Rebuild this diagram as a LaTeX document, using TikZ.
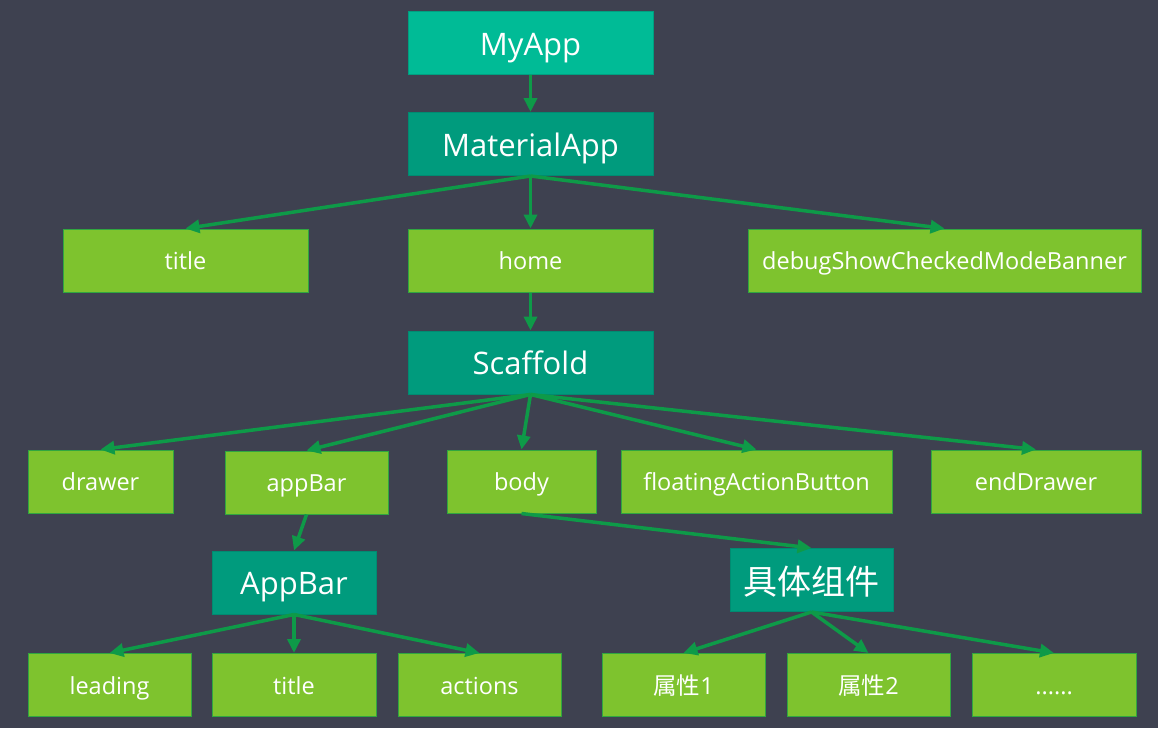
\documentclass[tikz,border=0pt]{standalone}
\usepackage{fontspec}
\setmainfont{Open Sans}
\newfontfamily\cjk{Noto Sans CJK SC}
\usepackage{tikz}
\usepackage{xcolor}
\usetikzlibrary{positioning, arrows.meta}
\definecolor{bgslate}{RGB}{62, 65, 80}
\definecolor{appteal}{RGB}{0, 187, 150}
\definecolor{widgetteal}{RGB}{0, 155, 125}
\definecolor{propgreen}{RGB}{126, 195, 46}
\definecolor{linkgreen}{RGB}{14, 154, 72}
\tikzset{
    box/.style={rectangle, draw, line width=1pt, text=white, inner sep=0pt, minimum height=63pt, text depth=4pt},
    appnode/.style={box, fill=appteal, draw=appteal!85!black, font=\fontsize{31}{36}\selectfont, text height=28pt},
    widgetnode/.style={box, fill=widgetteal, draw=widgetteal!90!black, font=\fontsize{31}{36}\selectfont, text height=28pt},
    propnode/.style={box, fill=propgreen, draw=linkgreen!70!propgreen, font=\fontsize{23.5}{28}\selectfont, text height=22pt},
    link/.style={draw=linkgreen, line width=3.5pt, -{Triangle[length=14pt, width=13pt]}}
}

\begin{document}
\begin{tikzpicture}[x=1pt, y=-1pt]
    \fill[bgslate] (0,0) rectangle (1158,728);
    \useasboundingbox (0,0) rectangle (1158,728);
    % top of the tree
    \node[appnode, minimum width=245pt] (myapp) at (530.5,43) {MyApp};
    \node[widgetnode, minimum width=245pt] (material) at (530.5,144) {MaterialApp};
    \node[propnode, minimum width=245pt] (title) at (185.5,260.5) {title};
    \node[propnode, minimum width=245pt] (home) at (530.5,260.5) {home};
    \node[propnode, minimum width=393pt] (debug) at (944.5,260.5) {debugShowCheckedModeBanner};
    \node[widgetnode, minimum width=245pt] (scaffold) at (530.5,362.5) {Scaffold};
    % scaffold properties
    \node[propnode, minimum width=145pt] (drawer) at (100.5,481.5) {drawer};
    \node[propnode, minimum width=163pt] (appbar) at (306.5,482.5) {appBar};
    \node[propnode, minimum width=149pt] (body) at (521.5,481.5) {body};
    \node[propnode, minimum width=271pt] (fab) at (756.5,481.5) {floatingActionButton};
    \node[propnode, minimum width=210pt] (enddrawer) at (1036,481.5) {endDrawer};
    % second level
    \node[widgetnode, minimum width=164pt] (appbarw) at (294,582.5) {AppBar};
    \node[widgetnode, minimum width=163pt, font=\fontsize{34}{40}\selectfont, text height=32pt] (widget) at (811.5,580) {\cjk 具体组件};
    \node[propnode, minimum width=163pt] (leading) at (109.5,685) {leading};
    \node[propnode, minimum width=164pt] (bartitle) at (294,685) {title};
    \node[propnode, minimum width=163pt] (actions) at (479.5,685) {actions};
    \node[propnode, minimum width=163pt] (prop1) at (683.5,685) {{\cjk 属性}1};
    \node[propnode, minimum width=163pt] (prop2) at (868.5,685) {{\cjk 属性}2};
    \node[propnode, minimum width=164pt] (more) at (1054,685) {......};

    \draw[link] (myapp) -- (material);
    \foreach \k in {title, home, debug} \draw[link] (material.south) -- (\k.north);
    \draw[link] (home) -- (scaffold);
    \foreach \k in {drawer, appbar, body, fab, enddrawer} \draw[link] (scaffold.south) -- (\k.north);
    \draw[link] (appbar.south) -- (appbarw.north);
    \draw[link] (body.south) -- (widget.north);
    \foreach \k in {leading, bartitle, actions} \draw[link] (appbarw.south) -- (\k.north);
    \foreach \k in {prop1, prop2, more} \draw[link] (widget.south) -- (\k.north);
\end{tikzpicture}
\end{document}
